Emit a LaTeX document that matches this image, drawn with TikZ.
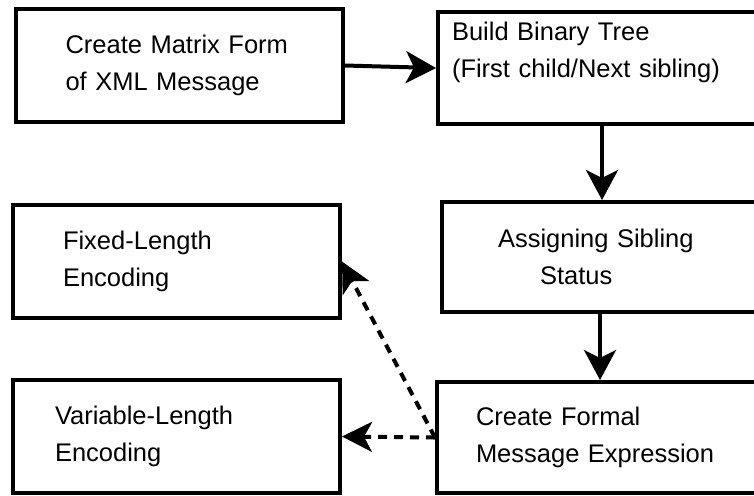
\documentclass[tikz,border=0pt]{standalone}
\usepackage{fontspec}
\setmainfont{Liberation Sans}
\usetikzlibrary{arrows.meta}

\begin{document}
\begin{tikzpicture}[
    x=0.5pt, y=-0.5pt,
    % Estilos de cajas
    step box/.style={draw=black, line width=2pt, rectangle, inner sep=0pt,
        align=left, font=\fontsize{12.75}{18.5}\selectfont},
    % Estilos de flechas
    flow edge/.style={-{Stealth[length=15pt, width=16pt, inset=4pt]}, line width=2pt},
    code edge/.style={-{Stealth[length=15pt, width=15pt, inset=4pt]}, line width=2pt,
        dash pattern=on 4.5pt off 3.5pt}
]
    \useasboundingbox (0,0) rectangle (754,495);

    % =========================================================================
    % 1. Cajas del proceso
    % =========================================================================
    \node[step box, minimum width=163.5pt, minimum height=56.5pt, text width=114pt]
        (matrix) at (179.5,65.5) {Create Matrix Form\\of XML Message};
    \node[step box, minimum width=164pt, minimum height=56pt, text width=150pt]
        (tree) at (602,68) {Build Binary Tree\\(First child/Next sibling)\\~};
    \node[step box, minimum width=160pt, minimum height=55pt, text width=104pt]
        (sibling) at (602,257) {Assigning Sibling\\\hspace*{21pt}Status};
    \node[step box, minimum width=163pt, minimum height=55.5pt, text width=124pt]
        (formal) at (600,437.5) {Create Formal\\Message Expression};

    % Codificaciones
    \node[step box, minimum width=163.5pt, minimum height=56.5pt, text width=113.5pt]
        (fixed) at (176.5,261.5) {Fixed-Length\\Encoding};
    \node[step box, minimum width=163.5pt, minimum height=56.5pt, text width=121.5pt]
        (variable) at (176.5,436.5) {Variable-Length\\Encoding};

    % =========================================================================
    % 2. Flechas
    % =========================================================================
    \draw[flow edge] (matrix.east) -- (tree.west);
    \draw[flow edge] (tree.south) -- (sibling.north);
    \draw[flow edge] (sibling.south -| formal.north) -- (formal.north);

    \draw[code edge] (formal.west) -- (fixed.east);
    \draw[code edge] (formal.west) -- (variable.east);
\end{tikzpicture}
\end{document}
